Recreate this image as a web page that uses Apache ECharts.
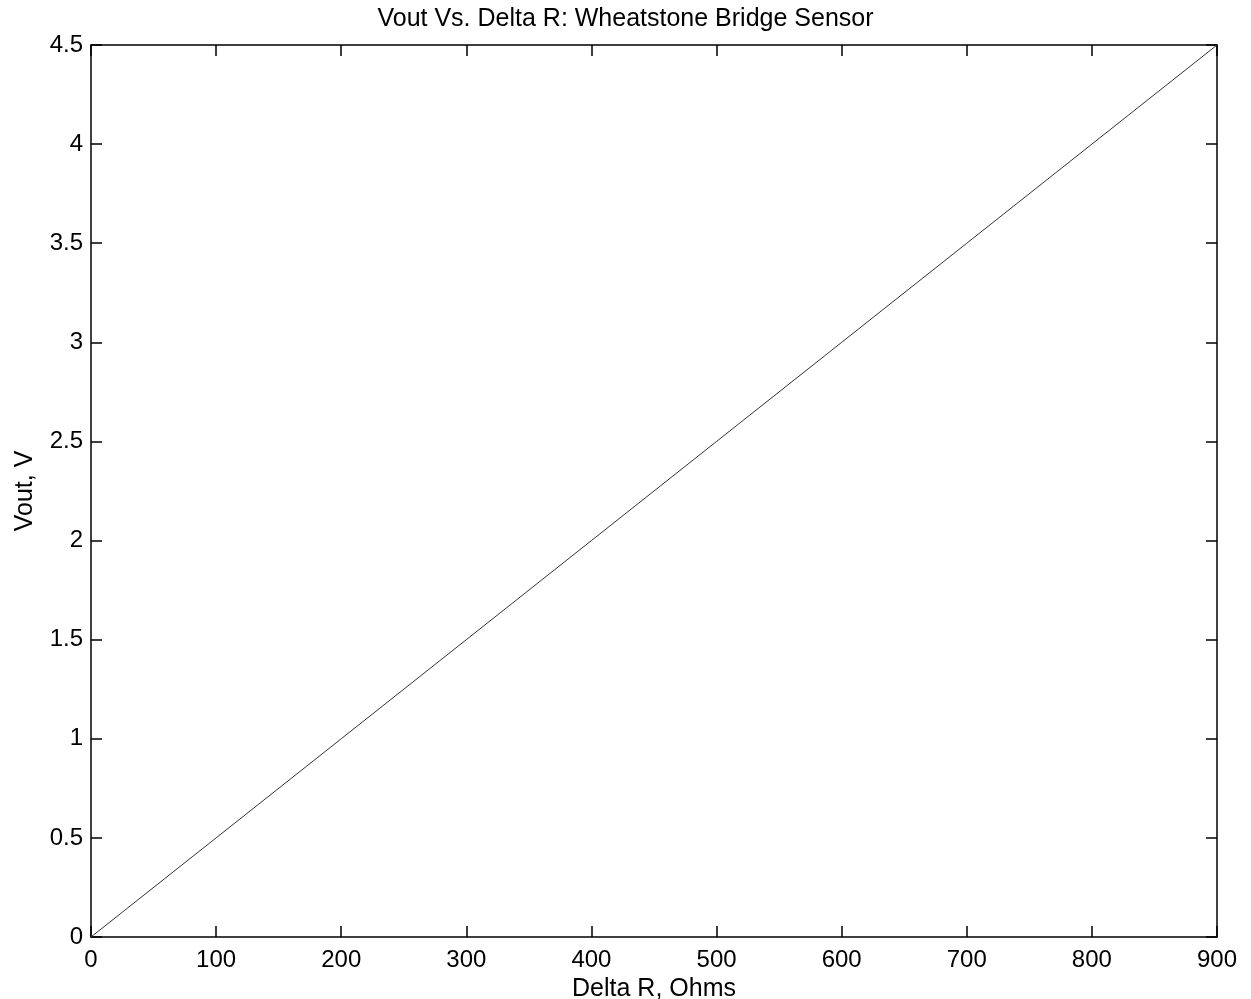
<!DOCTYPE html>
<html>
<head>
<meta charset="utf-8">
<script src="https://cdn.jsdelivr.net/npm/echarts@6/dist/echarts.min.js"></script>
<style>
html,body{margin:0;padding:0;background:#fff;}
#chart{width:1251px;height:999px;}
</style>
</head>
<body>
<div id="chart"></div>
<script>
const deltaR = [0, 100, 200, 300, 400, 500, 600, 700, 800, 900];
const vout = [0, 0.5, 1.0, 1.5, 2.0, 2.5, 3.0, 3.5, 4.0, 4.5];
const titleText = 'Vout Vs. Delta R: Wheatstone Bridge Sensor';
const xName = 'Delta R, Ohms';
const yName = 'Vout, V';

const chart = echarts.init(document.getElementById('chart'));
const font = 'Liberation Sans, Arial, Helvetica, sans-serif';
const axisLine = {show: true, onZero: false, lineStyle: {color: '#000', width: 1.5}};
const tick = {show: true, inside: true, length: 11, lineStyle: {color: '#000', width: 1.5}};
chart.setOption({
  animation: false,
  backgroundColor: '#fff',
  title: {
    text: titleText, left: 'center', top: 2,
    textStyle: {fontFamily: font, fontSize: 25, fontWeight: 'normal', color: '#000'}
  },
  grid: {left: 91, right: 34, top: 45, bottom: 62, outerBoundsMode: 'none', containLabel: false},
  xAxis: [{
    type: 'value', min: 0, max: 900, interval: 100, position: 'bottom',
    name: xName, nameLocation: 'middle', nameGap: 33,
    nameTextStyle: {fontFamily: font, fontSize: 25, color: '#000'},
    axisLine: axisLine, axisTick: tick, splitLine: {show: false},
    axisLabel: {fontFamily: font, fontSize: 24, color: '#000', margin: 11}
  }, {
    type: 'value', min: 0, max: 900, interval: 100, position: 'top',
    axisLine: axisLine, axisTick: tick, splitLine: {show: false},
    axisLabel: {show: false}
  }],
  yAxis: [{
    type: 'value', min: 0, max: 4.5, interval: 0.5, position: 'left',
    name: yName, nameLocation: 'middle', nameGap: 53, nameRotate: 90,
    nameTextStyle: {fontFamily: font, fontSize: 25, color: '#000'},
    axisLine: axisLine, axisTick: tick, splitLine: {show: false},
    axisLabel: {fontFamily: font, fontSize: 24, color: '#000', margin: 8}
  }, {
    type: 'value', min: 0, max: 4.5, interval: 0.5, position: 'right',
    axisLine: axisLine, axisTick: tick, splitLine: {show: false},
    axisLabel: {show: false}
  }],
  series: [{
    type: 'line',
    data: deltaR.map((x, i) => [x, vout[i]]),
    showSymbol: false,
    lineStyle: {color: '#333', width: 1}
  }]
});
</script>
</body>
</html>
